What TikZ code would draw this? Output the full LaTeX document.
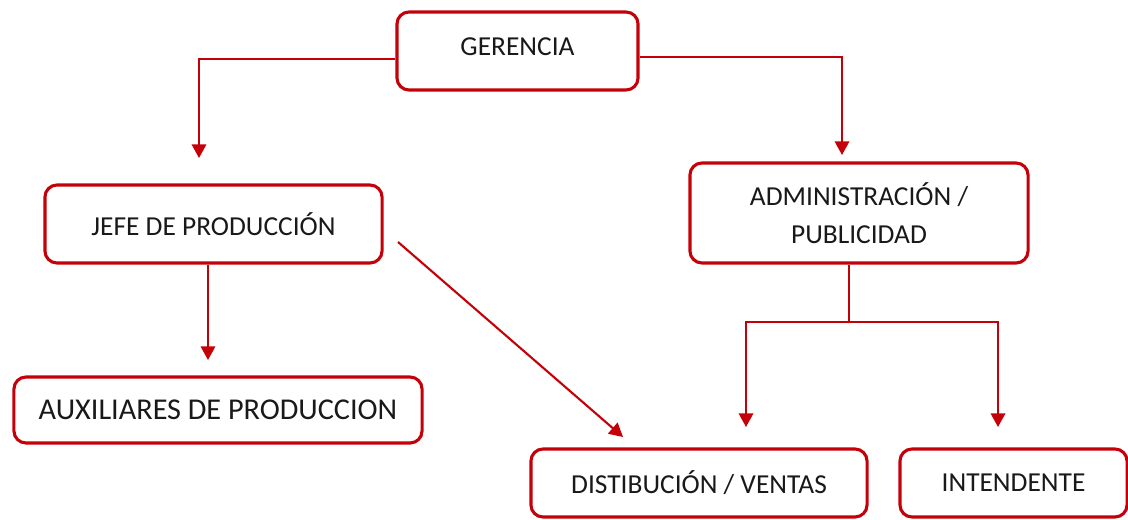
\documentclass[tikz,border=0pt]{standalone}
\usepackage{fontspec}
\setmainfont{Carlito}
\usetikzlibrary{arrows.meta}
\definecolor{orgred}{RGB}{196,0,8}
\definecolor{orgtext}{RGB}{25,25,25}

\begin{document}
\begin{tikzpicture}[x=0.025cm,y=-0.025cm,
    cargo/.style={draw=orgred,line width=2.2pt,rounded corners=0.3cm,fill=white,
        text=orgtext,align=center,inner sep=0pt,
        font=\fontsize{19.5}{27.5}\selectfont},
    enlace/.style={draw=orgred,line width=1.5pt},
    flecha/.style={enlace,-{Triangle[width=0.36cm,length=0.34cm]}}]
    \useasboundingbox (0,0) rectangle (1128,519);

    \node[cargo,minimum width=6.025cm,minimum height=1.95cm,text depth=0.2cm] (gerencia) at (517.5,51) {GERENCIA};

    \node[cargo,minimum width=8.425cm,minimum height=1.95cm] (jefe) at (213.5,224) {JEFE DE PRODUCCIÓN};

    \node[cargo,minimum width=8.45cm,minimum height=2.5cm] (admin) at (859,213) {ADMINISTRACIÓN /\\PUBLICIDAD};

    \node[cargo,minimum width=10.2cm,minimum height=1.65cm,font=\fontsize{21.5}{25}\selectfont] (aux) at (218,410) {AUXILIARES DE PRODUCCION};

    \node[cargo,minimum width=8.4cm,minimum height=1.7cm] (ventas) at (699,483) {DISTIBUCIÓN / VENTAS};

    \node[cargo,minimum width=5.675cm,minimum height=1.7cm] (intendente) at (1013.5,483) {INTENDENTE};

    \coordinate (jefeIn) at (199,158);
    \coordinate (adminIn) at (842,155);
    \coordinate (auxIn) at (208,360);
    \coordinate (diagA) at (398,242);
    \coordinate (diagB) at (623,437);
    \coordinate (reparto) at (849,322);
    \coordinate (ventasIn) at (746,427);
    \coordinate (intIn) at (998,427);

    \draw[flecha] ([yshift=-0.2cm]gerencia.west) -| (jefeIn);
    \draw[flecha] ([yshift=-0.15cm]gerencia.east) -| (adminIn);

    \draw[flecha] (jefe.south -| auxIn) -- (auxIn);
    \draw[flecha] (diagA) -- (diagB);

    \draw[enlace] (admin.south -| reparto) -- (reparto);
    \draw[flecha] (reparto) -| (ventasIn);
    \draw[flecha] (reparto) -| (intIn);

\end{tikzpicture}
\end{document}
